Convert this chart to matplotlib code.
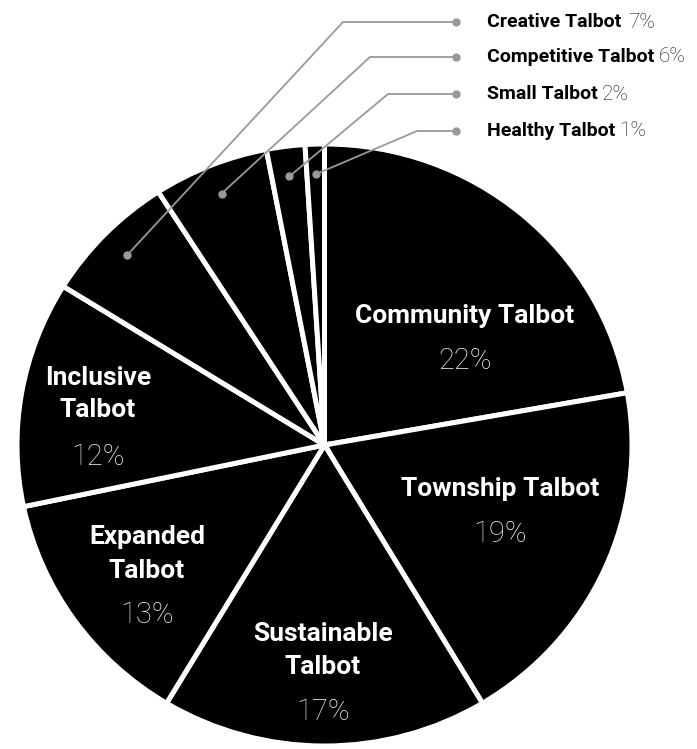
import matplotlib
matplotlib.use('Agg')
import matplotlib.pyplot as plt
import numpy as np

# slice data, clockwise from 12 o'clock
names = ['Community Talbot', 'Township Talbot', 'Sustainable Talbot', 'Expanded Talbot',
         'Inclusive Talbot', 'Creative Talbot', 'Competitive Talbot', 'Small Talbot', 'Healthy Talbot']
values = [22, 19, 17, 13, 12, 7, 6, 2, 1]
pct_labels = ['22%', '19%', '17%', '13%', '12%', '7%', '6%', '2%', '1%']

# inner labels: text lines and pixel positions (title lines, percent)
inner_text = {
    0: (['Community Talbot'], [(465, 316)], (465, 361)),
    1: (['Township Talbot'], [(500, 489)], (500, 534)),
    2: (['Sustainable', 'Talbot'], [(323, 634), (323, 667)], (323, 712)),
    3: (['Expanded', 'Talbot'], [(147, 537), (147, 571)], (147, 615)),
    4: (['Inclusive', 'Talbot'], [(98, 378), (98, 410)], (98, 457)),
}
# callouts for the small slices: elbow point and label row (pixels)
callout_rows = {5: (343, 22), 6: (370, 57), 7: (388, 94), 8: (417, 131)}

W, H = 697, 749
CX, CY = 324.5, 445.0
RX, RY = 307.5, 301.0

BOLD = ['Liberation Sans Narrow', 'Roboto', 'DejaVu Sans']
LIGHT = ['Roboto', 'DejaVu Sans']


def to_data(px, py):
    return (px - CX) / RX, (CY - py) / RY


fig = plt.figure(figsize=(W / 100, H / 100), dpi=100)
ax = fig.add_axes([(CX - RX) / W, (H - CY - RY) / H, 2 * RX / W, 2 * RY / H])

wedges, _ = ax.pie(values, startangle=90, counterclock=False, radius=1.0,
                   colors=['black'] * len(values),
                   wedgeprops=dict(edgecolor='white', linewidth=3.6))
ax.set_aspect('auto')
ax.set_xlim(-1, 1)
ax.set_ylim(-1, 1)
ax.axis('off')

for i, (lines, pos, ppos) in inner_text.items():
    for line, (px, py) in zip(lines, pos):
        x, y = to_data(px, py)
        ax.text(x, y, line, ha='center', va='center', color='white',
                fontsize=19, fontweight='bold', family=BOLD)
    x, y = to_data(*ppos)
    ax.text(x, y, pct_labels[i], ha='center', va='center', color='#f2f2f2',
            fontsize=21, fontweight='light', family=LIGHT)

grey = '#999999'
end_x = 456
for i, (ex, ey) in callout_rows.items():
    w = wedges[i]
    mid = np.deg2rad((w.theta1 + w.theta2) / 2)
    ax_pt = (0.9 * np.cos(mid), 0.9 * np.sin(mid))
    elbow = to_data(ex, ey)
    end = to_data(end_x, ey)
    ax.plot([ax_pt[0], elbow[0], end[0]], [ax_pt[1], elbow[1], end[1]],
            color=grey, lw=1.3, clip_on=False, zorder=5)
    ax.plot([ax_pt[0], end[0]], [ax_pt[1], end[1]], 'o', color=grey, ms=5,
            clip_on=False, zorder=6)
    tx, ty = to_data(487, ey)
    t = ax.text(tx, ty, names[i], ha='left', va='center', color='black',
                fontsize=14, fontweight='bold', family=BOLD)
    fig.canvas.draw()
    bb = t.get_window_extent()
    px_end = bb.x1 + (7 if i == 5 else 4)
    ax.text((px_end - CX) / RX, ty, pct_labels[i], ha='left', va='center',
            color='#111111', fontsize=15, fontweight='light', family=LIGHT)

fig.savefig('out.png', dpi=100)
